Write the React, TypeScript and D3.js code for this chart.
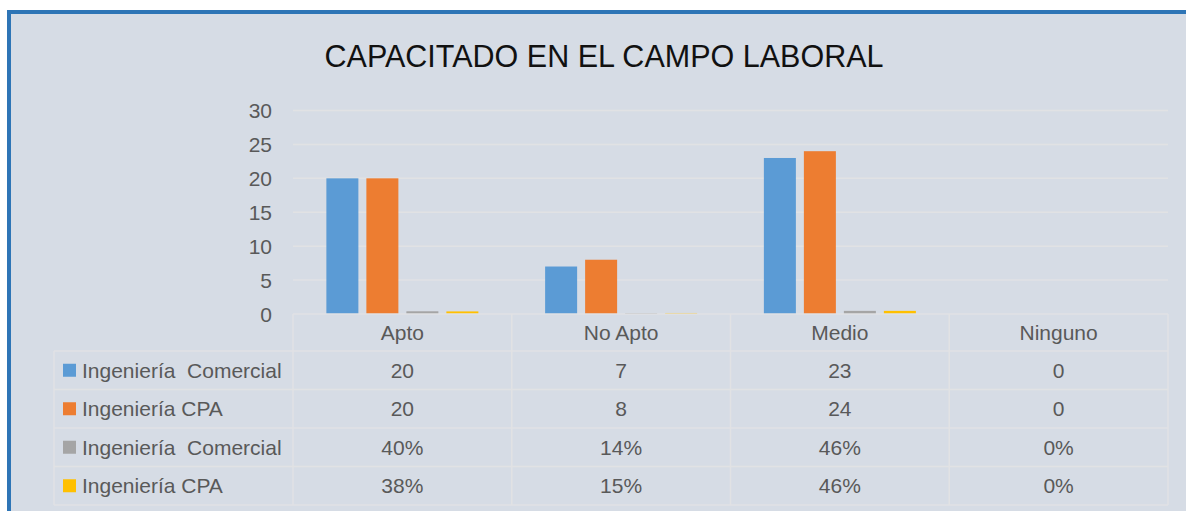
import React, { useEffect, useRef } from 'react';
import * as d3 from 'd3';

const categories = ['Apto', 'No Apto', 'Medio', 'Ninguno'];
const seriesNames = ['Ingeniería  Comercial', 'Ingeniería CPA', 'Ingeniería  Comercial', 'Ingeniería CPA'];
const comercialCount = [20, 7, 23, 0];
const cpaCount = [20, 8, 24, 0];
const comercialPct = [0.40, 0.14, 0.46, 0];
const cpaPct = [0.38, 0.15, 0.46, 0];
const seriesColors = ['#5b9bd5', '#ed7d31', '#a5a5a5', '#ffc000'];
const yTicks = [0, 5, 10, 15, 20, 25, 30];

const W = 1186;
const H = 511;

export default function App() {
  const svgRef = useRef<SVGSVGElement>(null);

  useEffect(() => {
    if (!svgRef.current) return;
    const svg = d3.select(svgRef.current);
    svg.selectAll('*').remove();

    const font = '"Liberation Sans", Arial, sans-serif';
    const textColor = '#595959';
    const gridColor = '#e1e2e4';

    // background + blue border on left and top
    svg.append('rect').attr('width', W).attr('height', H).attr('fill', '#fff');
    svg.append('rect').attr('x', 9).attr('y', 12).attr('width', W - 9).attr('height', H - 12)
      .attr('fill', '#d6dce5');
    svg.append('line').attr('x1', 9).attr('x2', 9).attr('y1', 10).attr('y2', H)
      .attr('stroke', '#2e75b6').attr('stroke-width', 4);
    svg.append('line').attr('x1', 7).attr('x2', W).attr('y1', 12).attr('y2', 12)
      .attr('stroke', '#2e75b6').attr('stroke-width', 4);

    svg.append('text')
      .attr('x', 604).attr('y', 67)
      .attr('text-anchor', 'middle')
      .attr('font-family', font).attr('font-size', 31)
      .attr('textLength', 559).attr('lengthAdjust', 'spacingAndGlyphs')
      .attr('fill', '#111')
      .text('CAPACITADO EN EL CAMPO LABORAL');

    const left = 293, right = 1168, top = 110.5, bottom = 314;
    const y = d3.scaleLinear().domain([0, 30]).range([bottom, top]);
    const x0 = d3.scaleBand<string>().domain(categories).range([left, right]);
    const bw = x0.bandwidth();
    const x1 = d3.scaleBand<number>().domain([0, 1, 2, 3])
      .range([(bw - 152) / 2, (bw + 152) / 2]).paddingInner(0.2);

    // gridlines
    svg.append('g').selectAll('line')
      .data(yTicks.filter(t => t > 0))
      .enter().append('line')
      .attr('x1', left).attr('x2', right)
      .attr('y1', d => y(d)).attr('y2', d => y(d))
      .attr('stroke', gridColor).attr('stroke-width', 1.5);

    // y tick labels
    svg.append('g').selectAll('text')
      .data(yTicks)
      .enter().append('text')
      .attr('x', 272).attr('y', d => y(d) + 7.5)
      .attr('text-anchor', 'end')
      .attr('font-family', font).attr('font-size', 21)
      .attr('fill', textColor)
      .text(d => d);

    // bars
    const allSeries = [comercialCount, cpaCount, comercialPct, cpaPct];
    allSeries.forEach((vals, si) => {
      svg.append('g').selectAll('rect')
        .data(vals)
        .enter().append('rect')
        .attr('x', (d, i) => (x0(categories[i]) as number) + (x1(si) as number))
        .attr('y', d => y(d))
        .attr('width', x1.bandwidth())
        .attr('height', d => bottom - y(d))
        .attr('fill', seriesColors[si]);
    });

    // data table
    const tableLeft = 54;
    const rowTop = 351;
    const rowH = 38.5;
    const tableBottom = rowTop + rowH * 4;
    const tbl = svg.append('g').attr('stroke', gridColor).attr('stroke-width', 1.5);
    tbl.append('line').attr('x1', left).attr('x2', right).attr('y1', bottom).attr('y2', bottom);
    d3.range(5).forEach(r => {
      tbl.append('line').attr('x1', tableLeft).attr('x2', right)
        .attr('y1', rowTop + r * rowH).attr('y2', rowTop + r * rowH);
    });
    tbl.append('line').attr('x1', tableLeft).attr('x2', tableLeft).attr('y1', rowTop).attr('y2', tableBottom);
    categories.forEach(c => {
      const xs = x0(c) as number;
      tbl.append('line').attr('x1', xs).attr('x2', xs).attr('y1', bottom).attr('y2', tableBottom);
    });
    tbl.append('line').attr('x1', right).attr('x2', right).attr('y1', bottom).attr('y2', tableBottom);

    // category headers
    svg.append('g').selectAll('text')
      .data(categories)
      .enter().append('text')
      .attr('x', d => (x0(d) as number) + bw / 2)
      .attr('y', (bottom + rowTop) / 2 + 7.5)
      .attr('text-anchor', 'middle')
      .attr('font-family', font).attr('font-size', 21)
      .attr('fill', textColor)
      .text(d => d);

    const fmt = [
      (v: number) => String(v),
      (v: number) => String(v),
      (v: number) => Math.round(v * 100) + '%',
      (v: number) => Math.round(v * 100) + '%',
    ];

    allSeries.forEach((vals, si) => {
      const cy = rowTop + si * rowH + rowH / 2;
      svg.append('rect')
        .attr('x', 63).attr('y', cy - 6.5).attr('width', 13).attr('height', 13)
        .attr('fill', seriesColors[si]);
      svg.append('text')
        .attr('x', 82).attr('y', cy + 7.5)
        .attr('font-family', font).attr('font-size', 21)
        .attr('fill', textColor)
        .style('white-space', 'pre')
        .text(seriesNames[si]);
      svg.append('g').selectAll('text')
        .data(vals)
        .enter().append('text')
        .attr('x', (d, i) => (x0(categories[i]) as number) + bw / 2)
        .attr('y', cy + 7.5)
        .attr('text-anchor', 'middle')
        .attr('font-family', font).attr('font-size', 21)
        .attr('fill', textColor)
        .text(d => fmt[si](d));
    });
  }, []);

  return (
    <div style={{ position: 'fixed', left: 0, top: 0, width: W, height: H, overflow: 'hidden' }}>
      <svg ref={svgRef} width={W} height={H} style={{ display: 'block' }}></svg>
    </div>
  );
}
